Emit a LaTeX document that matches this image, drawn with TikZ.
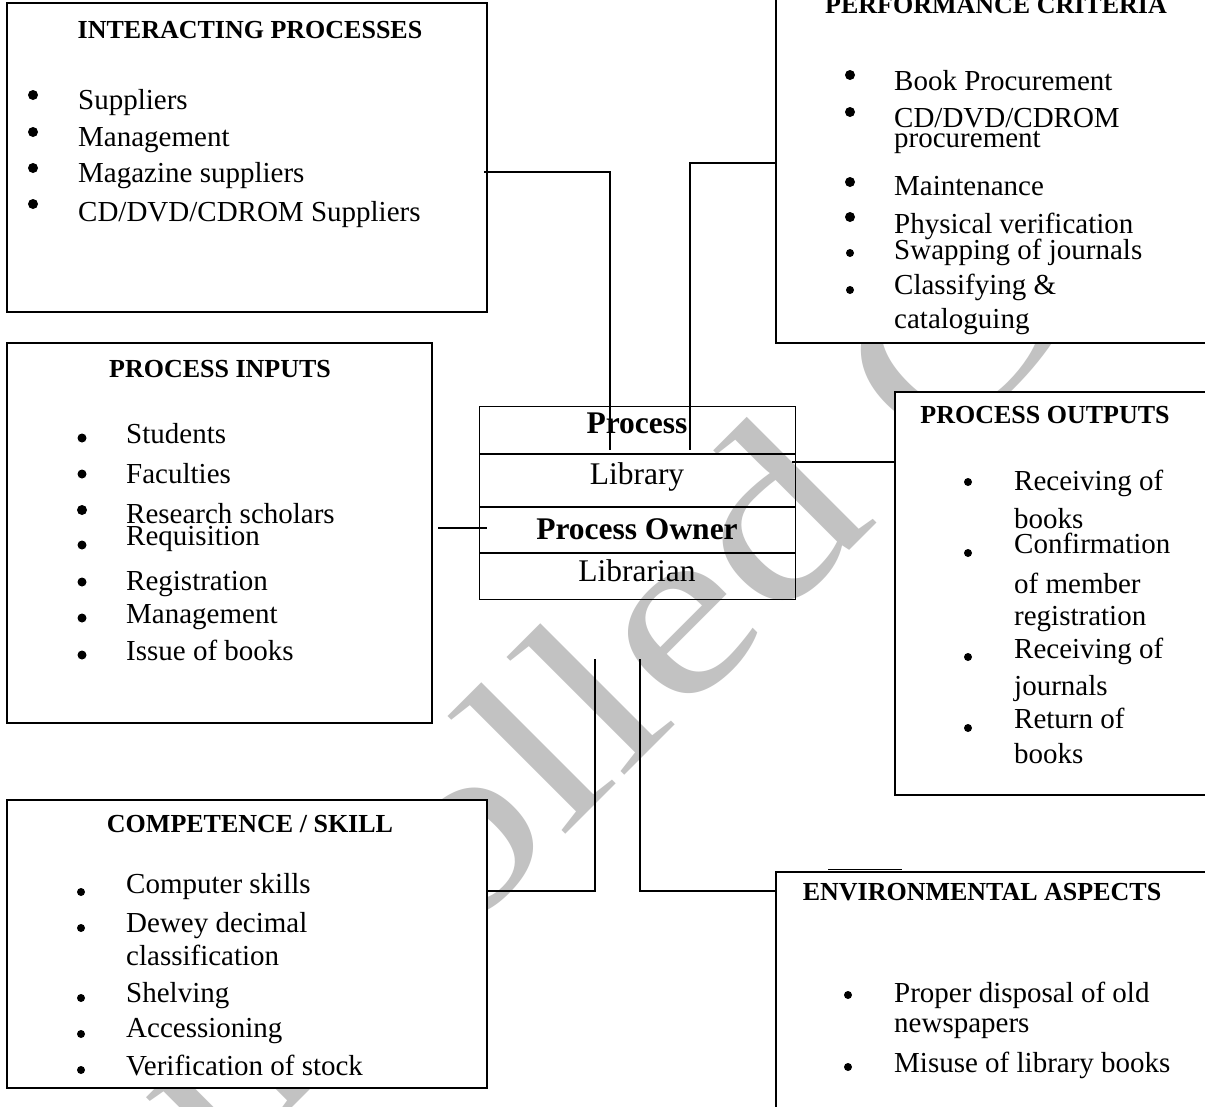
\documentclass[tikz,border=0pt]{standalone}
\usepackage{fontspec}
\setmainfont{Liberation Serif}
\begin{document}
\begin{tikzpicture}[x=1pt,y=-1pt,
  frame/.style={draw, line width=1.4pt, fill=white, inner sep=0pt, outer sep=0pt, anchor=north west},
  link/.style={line width=1.3pt},
  rule/.style={line width=1.1pt},
  item/.style={anchor=base west, inner sep=0pt, font=\fontsize{29}{34}\selectfont},
  head/.style={anchor=base, inner sep=0pt, font=\bfseries\fontsize{26}{30}\selectfont},
  cell/.style={anchor=base, inner sep=0pt, font=\fontsize{31.5}{36}\selectfont},
  cellhead/.style={anchor=base, inner sep=0pt, font=\bfseries\fontsize{31.5}{36}\selectfont},
  wm/.style={text=gray!48, inner sep=0pt, anchor=base west, font=\fontsize{240}{240}\selectfont}
]
\useasboundingbox (0,0) rectangle (1205,1106);
\clip (0,0) rectangle (1205,1106);
\fill[white] (0,0) rectangle (1205,1106);

% diagonal watermark, kept out of the white boxes
\begin{scope}[even odd rule]
  \clip (0,0) rectangle (1205,1106)
    (487,3) rectangle (7,312)
    (1226,-20) rectangle (776,343)
    (432,343) rectangle (7,723)
    (1215,392) rectangle (895,795)
    (487,800) rectangle (7,1088)
    (1226,872) rectangle (776,1132);
  \begin{scope}[shift={(-28,1428)}]
    \node[wm, rotate=45, xscale=1.25] (mark) at (0,0) {Controlled Copy};
  \end{scope}
\end{scope}

% ---------- outer boxes ----------
\node[frame, minimum width=480pt, minimum height=309pt] (ipbox) at (7,3) {};
\node[frame, minimum width=450pt, minimum height=363pt] (pcbox) at (776,-20) {};
\node[frame, minimum width=425pt, minimum height=380pt] (inbox) at (7,343) {};
\node[frame, minimum width=320pt, minimum height=403pt] (outbox) at (895,392) {};
\node[frame, minimum width=480pt, minimum height=288pt] (csbox) at (7,800) {};
\node[frame, minimum width=450pt, minimum height=260pt] (envbox) at (776,872) {};
\draw[line width=1.6pt] (828,869.5) -- (902,869.5);

% ---------- central process table ----------
\node[draw, line width=1.1pt, anchor=north west, inner sep=0pt, minimum width=316pt, minimum height=193pt] (proc) at (479,406) {};
\draw[rule] (479,454) -- (795,454);
\draw[rule] (479,507) -- (795,507);
\draw[rule] (479,553) -- (795,553);
\node[cellhead] (tproc) at (637,433) {Process};
\node[cell] (tlib) at (637,484) {Library};
\node[cellhead] (towner) at (637,539) {Process Owner};
\node[cell] (tlibn) at (637,581) {Librarian};

% ---------- connector end points ----------
\coordinate (ipout) at (484,172);
\coordinate (procA) at (610,450);
\coordinate (pcin) at (776,163);
\coordinate (procB) at (690,450);
\coordinate (inout) at (438,528);
\coordinate (procW) at (487,528);
\coordinate (procE) at (792,462);
\coordinate (outin) at (895,462);
\coordinate (csout) at (487,891);
\coordinate (procC) at (595,659);
\coordinate (procD) at (640,659);
\coordinate (envin) at (776,891);

\draw[link] (ipout) -| (procA);
\draw[link] (pcin) -| (procB);
\draw[link] (inout) -- (procW);
\draw[link] (procE) -- (outin);
\draw[link] (csout) -| (procC);
\draw[link] (procD) |- (envin);

% ---------- INTERACTING PROCESSES ----------
\node[head] (iphead) at (250,38) {INTERACTING PROCESSES};
\foreach \y in {95,132,168,204} \fill (33,\y) circle (5pt);
\node[item] (ip1) at (78,109) {Suppliers};
\node[item] (ip2) at (78,146) {Management};
\node[item] (ip3) at (78,182) {Magazine suppliers};
\node[item] (ip4) at (78,221) {CD/DVD/CDROM Suppliers};

% ---------- PERFORMANCE CRITERIA ----------
\node[head] (pchead) at (996,13) {PERFORMANCE CRITERIA};
\foreach \y in {75,112,182,217} \fill (850,\y) circle (5pt);
\foreach \y in {253,290} \fill (850,\y) circle (4pt);
\node[item] (pc1) at (894,90) {Book Procurement};
\node[item] (pc2) at (894,127) {CD/DVD/CDROM};
\node[item] (pc2b) at (894,147) {procurement};
\node[item] (pc3) at (894,195) {Maintenance};
\node[item] (pc4) at (894,233) {Physical verification};
\node[item] (pc5) at (894,259) {Swapping of journals};
\node[item] (pc6) at (894,294) {Classifying \&};
\node[item] (pc6b) at (894,328) {cataloguing};

% ---------- PROCESS INPUTS ----------
\node[head] (inhead) at (220,377) {PROCESS INPUTS};
\foreach \y in {438,474,545,582,618,655} \fill (82,\y) circle (4.5pt);
\fill (82,510) circle (5pt);
\node[item] (in1) at (126,443) {Students};
\node[item] (in2) at (126,483) {Faculties};
\node[item] (in3) at (126,523) {Research scholars};
\node[item] (in4) at (126,545) {Requisition};
\node[item] (in5) at (126,590) {Registration};
\node[item] (in6) at (126,623) {Management};
\node[item] (in7) at (126,660) {Issue of books};

% ---------- PROCESS OUTPUTS ----------
\node[head] (outhead) at (1045,423) {PROCESS OUTPUTS};
\foreach \y in {482,553,657,728} \fill (968,\y) circle (4pt);
\node[item] (out1) at (1014,490) {Receiving of};
\node[item] (out1b) at (1014,528) {books};
\node[item] (out2) at (1014,553) {Confirmation};
\node[item] (out2b) at (1014,593) {of member};
\node[item] (out2c) at (1014,625) {registration};
\node[item] (out3) at (1014,658) {Receiving of};
\node[item] (out3b) at (1014,695) {journals};
\node[item] (out4) at (1014,728) {Return of};
\node[item] (out4b) at (1014,763) {books};

% ---------- COMPETENCE / SKILL ----------
\node[head] (cshead) at (250,832) {COMPETENCE / SKILL};
\foreach \y in {892,928,998,1034,1070} \fill (81,\y) circle (4pt);
\node[item] (cs1) at (126,893) {Computer skills};
\node[item] (cs2) at (126,932) {Dewey decimal};
\node[item] (cs2b) at (126,965) {classification};
\node[item] (cs3) at (126,1002) {Shelving};
\node[item] (cs4) at (126,1037) {Accessioning};
\node[item] (cs5) at (126,1075) {Verification of stock};

% ---------- ENVIRONMENTAL ASPECTS ----------
\node[head] (envhead) at (982,900) {ENVIRONMENTAL ASPECTS};
\foreach \y in {995,1067} \fill (848,\y) circle (4pt);
\node[item] (env1) at (894,1002) {Proper disposal of old};
\node[item] (env1b) at (894,1032) {newspapers};
\node[item] (env2) at (894,1072) {Misuse of library books};
\end{tikzpicture}
\end{document}
